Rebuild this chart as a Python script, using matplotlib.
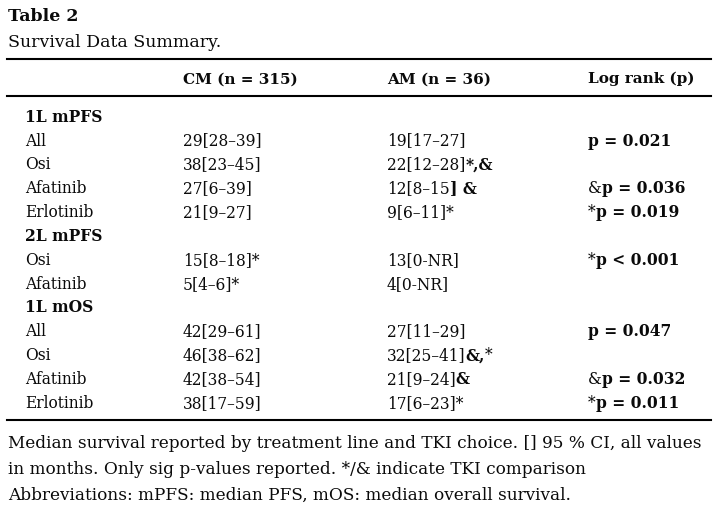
import matplotlib
matplotlib.use("Agg")
import matplotlib.pyplot as plt
from matplotlib.lines import Line2D

W, H = 715, 508
DPI = 100

# ---------------- data ----------------
title = "Table 2"
subtitle = "Survival Data Summary."
col_headers = ["CM (n = 315)", "AM (n = 36)", "Log rank (p)"]

# '|' toggles between regular and bold segments
row_labels = ["|1L mPFS|", "All", "Osi", "Afatinib", "Erlotinib",
              "|2L mPFS|", "Osi", "Afatinib",
              "|1L mOS|", "All", "Osi", "Afatinib", "Erlotinib"]
cm_values = ["", "29[28–39]", "38[23–45]", "27[6–39]", "21[9–27]",
             "", "15[8–18]*", "5[4–6]*",
             "", "42[29–61]", "46[38–62]", "42[38–54]", "38[17–59]"]
am_values = ["", "19[17–27]", "22[12–28]|*,&|", "12[8–15|] &|", "9[6–11]*",
             "", "13[0-NR]", "4[0-NR]",
             "", "27[11–29]", "32[25–41]|&,|*", "21[9–24]|&|", "17[6–23]*"]
p_values = ["", "|p = 0.021|", "", "&|p = 0.036|", "*|p = 0.019|",
            "", "*|p < 0.001|", "",
            "", "|p = 0.047|", "", "&|p = 0.032|", "*|p = 0.011|"]
footnotes = [
    "Median survival reported by treatment line and TKI choice. [] 95 % CI, all values",
    "in months. Only sig p-values reported. */& indicate TKI comparison",
    "Abbreviations: mPFS: median PFS, mOS: median overall survival.",
]

# ---------------- layout ----------------
FONT = "DejaVu Serif"
BODY = 11.2
FOOT = 12.2
col_x = [25, 183, 387, 588]
row_base0 = 121.7
row_step = 23.85
header_base = 83.3
foot_base = [448, 474, 500]

fig = plt.figure(figsize=(W / DPI, H / DPI), dpi=DPI)
fig.patch.set_facecolor("white")
renderer = fig.canvas.get_renderer()


def fx(x):
    return x / W


def fy(y):
    return 1 - y / H


def draw_segments(x, y, markup, size=BODY, base_bold=False):
    parts = markup.split("|")
    cur = x
    for i, seg in enumerate(parts):
        if not seg:
            continue
        bold = (i % 2 == 1) != base_bold
        t = fig.text(fx(cur), fy(y), seg, fontsize=size, family=FONT,
                     fontweight="bold" if bold else "normal",
                     ha="left", va="baseline", color="#0a0a0a")
        ext = t.get_window_extent(renderer=renderer)
        cur = ext.x1


def hline(y, x0=7, x1=711, lw=1.5):
    fig.add_artist(Line2D([fx(x0), fx(x1)], [fy(y), fy(y)],
                          transform=fig.transFigure, color="black", lw=lw))


draw_segments(8, 20.7, "|" + title + "|", size=12.5)
draw_segments(8, 46.7, subtitle, size=12.5)

hline(59)
for cx, h in zip(col_x[1:], col_headers):
    draw_segments(cx, header_base, "|" + h + "|", size=11.0)
hline(95.5)

for i in range(len(row_labels)):
    yb = row_base0 + i * row_step
    draw_segments(col_x[0], yb, row_labels[i])
    draw_segments(col_x[1], yb, cm_values[i])
    draw_segments(col_x[2], yb, am_values[i])
    draw_segments(col_x[3], yb, p_values[i])

hline(420)
for yb, line in zip(foot_base, footnotes):
    draw_segments(8, yb, line, size=FOOT)

fig.savefig("out.png", dpi=DPI, facecolor="white")
